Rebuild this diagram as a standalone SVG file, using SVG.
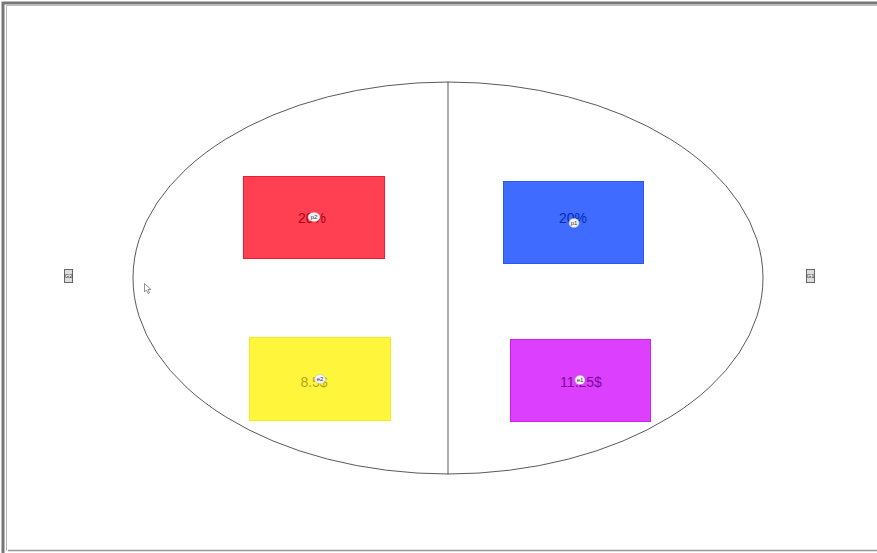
<svg xmlns="http://www.w3.org/2000/svg" width="877" height="553" viewBox="0 0 877 553">
<style>
.v{font-family:"Liberation Sans",Arial,sans-serif;font-size:14px;text-anchor:middle;dominant-baseline:central}
.tag{fill:#f4f4f4;stroke:#bbb;stroke-width:0.5}
.tt{font-family:"Liberation Sans",Arial,sans-serif;font-size:6px;text-anchor:middle;dominant-baseline:central;fill:#333}
.g{fill:#ddd;stroke:#666;stroke-width:1}
</style>
<rect x="0" y="0" width="877" height="553" fill="#fff"/>
<g id="frame" fill="none">
<path d="M3 553 V3 H877" stroke="#777" stroke-width="3"/>
<path d="M6.5 551 V5.5 H877" stroke="#bbb" stroke-width="1"/>
<path d="M8 550.5 H877" stroke="#999" stroke-width="1.5"/>
</g>
<g id="connectors">
<ellipse cx="448" cy="278" rx="315" ry="196" fill="none" stroke="#111" stroke-width="0.7"/>
<line x1="448" y1="82" x2="448" y2="474" stroke="#111" stroke-width="0.7"/>
</g>
<g id="p2">
<rect x="243.5" y="176.5" width="141" height="82" fill="#ff3f52" stroke="#f01c30"/>
<text class="v" x="312" y="218" fill="#a8001a">20%</text>
<ellipse class="tag" cx="314" cy="217" rx="6" ry="4.5"/>
<text class="tt" x="314" y="217">p2</text>
</g>
<g id="p1">
<rect x="503.5" y="181.5" width="140" height="82" fill="#3f6bff" stroke="#2a58f5"/>
<text class="v" x="573" y="218" fill="#0a2ab0">20%</text>
<ellipse class="tag" cx="574" cy="223" rx="5" ry="4.5"/>
<text class="tt" x="574" y="223">p1</text>
</g>
<g id="e2">
<rect x="249.5" y="337.5" width="141" height="83" fill="#fff53a" stroke="#f5ea20"/>
<text class="v" x="314" y="382" fill="#b0a820">8.5$</text>
<ellipse class="tag" cx="320" cy="379" rx="5.5" ry="4.5"/>
<text class="tt" x="320" y="379">e2</text>
</g>
<g id="e1">
<rect x="510.5" y="339.5" width="140" height="82" fill="#dd3fff" stroke="#cc20f5"/>
<text class="v" x="581" y="382" fill="#7a0a9a">11.25$</text>
<ellipse class="tag" cx="580" cy="380" rx="5" ry="4.5"/>
<text class="tt" x="580" y="380">e1</text>
</g>
<g id="G2">
<rect class="g" x="64.5" y="269.5" width="8" height="13"/>
<text class="tt" x="68.5" y="276" font-size="5">G2</text>
</g>
<g id="G1">
<rect class="g" x="806.5" y="269.5" width="8" height="13"/>
<text class="tt" x="810.5" y="276" font-size="5">G1</text>
</g>
<path d="M144.5 283.5 V292 L146.5 290 L148 293.5 L149.5 293 L148 289.5 L151 289.5 Z" fill="#fff" stroke="#666" stroke-width="0.7"/>
</svg>
